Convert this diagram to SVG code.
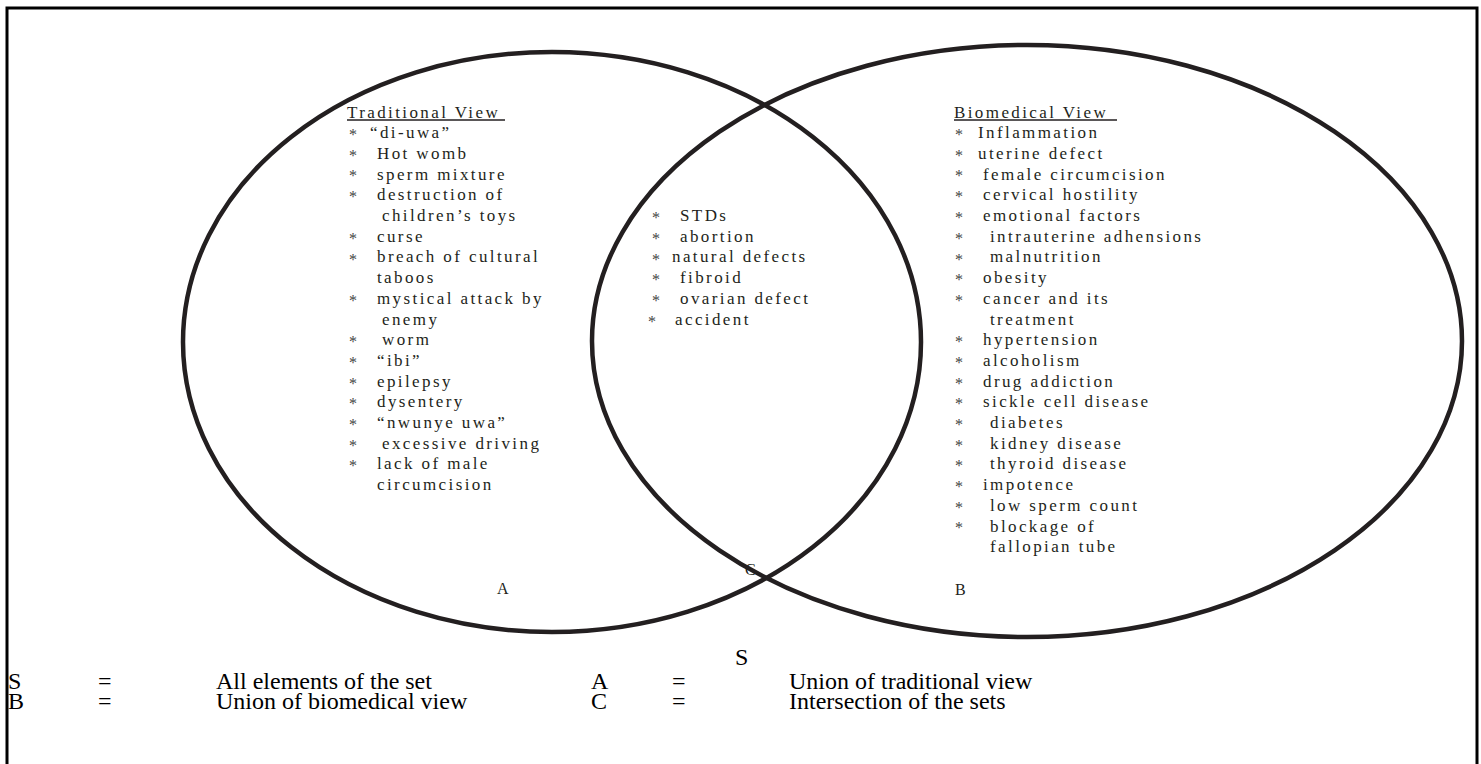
<svg xmlns="http://www.w3.org/2000/svg" width="1481" height="764" viewBox="0 0 1481 764">
<style>
.ell{fill:none;stroke:#231f20;stroke-width:4.5}
.it{font-family:"Liberation Serif","Times New Roman",serif;font-size:17px;letter-spacing:2.4px;fill:#231f20}
.st{font-family:"Liberation Serif","Times New Roman",serif;font-size:16px;fill:#444}
.lab{font-family:"Liberation Serif","Times New Roman",serif;font-size:16px;fill:#231f20}
.lg{font-family:"Liberation Serif","Times New Roman",serif;font-size:24px;fill:#000}
.ul{stroke:#231f20;stroke-width:1.3}
</style>
<rect x="7" y="8" width="1470" height="770" fill="#fff" stroke="#000" stroke-width="3"/>
<g id="connectors"/>
<g id="setA">
<ellipse class="ell" cx="552" cy="342" rx="369" ry="290"/>
<text class="it" x="347" y="117.5">Traditional View</text>
<line class="ul" x1="347" y1="120" x2="505" y2="120"/>
<g class="st">
<text x="349" y="140">*</text><text x="349" y="161">*</text><text x="349" y="181">*</text><text x="349" y="202">*</text>
<text x="349" y="244">*</text><text x="349" y="265">*</text><text x="349" y="306">*</text><text x="349" y="347">*</text>
<text x="349" y="368">*</text><text x="349" y="389">*</text><text x="349" y="409">*</text><text x="349" y="430">*</text>
<text x="349" y="451">*</text><text x="349" y="471">*</text>
</g>
<text class="it" x="370" y="138.2">“di-uwa”</text>
<text class="it" x="377" y="158.9">Hot womb</text>
<text class="it" x="377" y="179.6">sperm mixture</text>
<text class="it" x="377" y="200.3">destruction of</text>
<text class="it" x="382" y="221">children’s toys</text>
<text class="it" x="377" y="241.7">curse</text>
<text class="it" x="377" y="262.4">breach of cultural</text>
<text class="it" x="377" y="283.1">taboos</text>
<text class="it" x="377" y="303.8">mystical attack by</text>
<text class="it" x="382" y="324.5">enemy</text>
<text class="it" x="382" y="345.2">worm</text>
<text class="it" x="377" y="365.9">“ibi”</text>
<text class="it" x="377" y="386.6">epilepsy</text>
<text class="it" x="377" y="407.3">dysentery</text>
<text class="it" x="377" y="428">“nwunye uwa”</text>
<text class="it" x="382" y="448.7">excessive driving</text>
<text class="it" x="377" y="469.4">lack of male</text>
<text class="it" x="377" y="490.1">circumcision</text>
<text class="lab" x="497" y="594">A</text>
</g>
<g id="setC">
<g class="st">
<text x="652" y="223">*</text><text x="652" y="244">*</text><text x="652" y="265">*</text><text x="652" y="285">*</text><text x="652" y="306">*</text><text x="648" y="327">*</text>
</g>
<text class="it" x="680" y="221">STDs</text>
<text class="it" x="680" y="241.7">abortion</text>
<text class="it" x="672" y="262.4">natural defects</text>
<text class="it" x="680" y="283.1">fibroid</text>
<text class="it" x="680" y="303.8">ovarian defect</text>
<text class="it" x="675" y="324.5">accident</text>
<text class="lab" x="745" y="575">C</text>
</g>
<g id="setB">
<ellipse class="ell" cx="1027" cy="341" rx="435" ry="296"/>
<text class="it" x="954" y="117.5">Biomedical View</text>
<line class="ul" x1="954" y1="120" x2="1117" y2="120"/>
<g class="st">
<text x="955" y="140">*</text><text x="955" y="161">*</text><text x="955" y="181">*</text><text x="955" y="202">*</text>
<text x="955" y="223">*</text><text x="955" y="244">*</text><text x="955" y="265">*</text><text x="955" y="285">*</text>
<text x="955" y="306">*</text><text x="955" y="347">*</text><text x="955" y="368">*</text><text x="955" y="389">*</text>
<text x="955" y="409">*</text><text x="955" y="430">*</text><text x="955" y="451">*</text><text x="955" y="471">*</text>
<text x="955" y="492">*</text><text x="955" y="513">*</text><text x="955" y="533">*</text>
</g>
<text class="it" x="978" y="138.2">Inflammation</text>
<text class="it" x="978" y="158.9">uterine defect</text>
<text class="it" x="983" y="179.6">female circumcision</text>
<text class="it" x="983" y="200.3">cervical hostility</text>
<text class="it" x="983" y="221">emotional factors</text>
<text class="it" x="990" y="241.7">intrauterine adhensions</text>
<text class="it" x="990" y="262.4">malnutrition</text>
<text class="it" x="983" y="283.1">obesity</text>
<text class="it" x="983" y="303.8">cancer and its</text>
<text class="it" x="990" y="324.5">treatment</text>
<text class="it" x="983" y="345.2">hypertension</text>
<text class="it" x="983" y="365.9">alcoholism</text>
<text class="it" x="983" y="386.6">drug addiction</text>
<text class="it" x="983" y="407.3">sickle cell disease</text>
<text class="it" x="990" y="428">diabetes</text>
<text class="it" x="990" y="448.7">kidney disease</text>
<text class="it" x="990" y="469.4">thyroid disease</text>
<text class="it" x="983" y="490.1">impotence</text>
<text class="it" x="990" y="510.8">low sperm count</text>
<text class="it" x="990" y="531.5">blockage of</text>
<text class="it" x="990" y="552.2">fallopian tube</text>
<text class="lab" x="955" y="595">B</text>
</g>
<g id="legend" class="lg">
<text x="735" y="665">S</text>
<text x="8" y="689">S</text><text x="98" y="689">=</text><text x="216" y="689">All elements of the set</text>
<text x="591" y="689">A</text><text x="672" y="689">=</text><text x="789" y="689">Union of  traditional view</text>
<text x="8" y="709">B</text><text x="98" y="709">=</text><text x="216" y="709">Union of biomedical view</text>
<text x="591" y="709">C</text><text x="672" y="709">=</text><text x="789" y="709">Intersection of the sets</text>
</g>
</svg>
